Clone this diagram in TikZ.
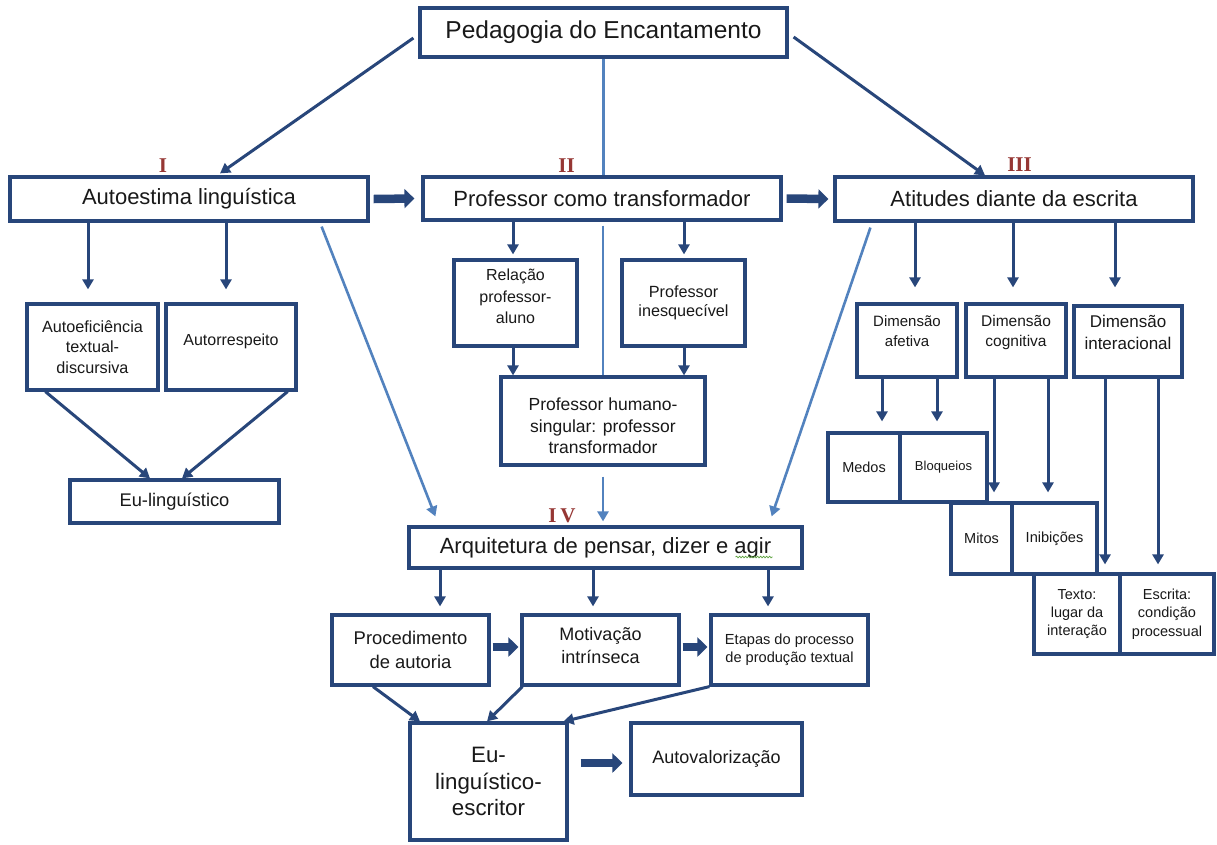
\documentclass[tikz,border=0pt]{standalone}
\usepackage{fontspec}
\setmainfont{Liberation Sans}
\newfontfamily\labfont{Liberation Serif}
\usetikzlibrary{arrows.meta,calc,decorations.pathmorphing}
\definecolor{boxblue}{RGB}{40,70,122}
\definecolor{lineblue}{RGB}{82,130,190}
\definecolor{labred}{RGB}{150,55,52}
\definecolor{wavegreen}{RGB}{90,160,60}
\newcommand{\fsz}[2]{\fontsize{#1}{#2}\selectfont}
\begin{document}
\begin{tikzpicture}[x=1pt,y=-1pt,
  box/.style={draw=boxblue,line width=3.2pt,fill=white,align=center,inner sep=1pt,text=black!90},
  darr/.style={draw=boxblue,line width=3pt,-{Triangle[length=10pt,width=11pt]}},
  larr/.style={draw=lineblue,line width=2.6pt,-{Triangle[length=10pt,width=11pt]}},
  lline/.style={draw=lineblue,line width=2.6pt},
  fat/.style={draw=boxblue,line width=8.5pt,-{Triangle[length=10pt,width=19pt]}},
  numlab/.style={text=labred,font=\labfont\bfseries\fsz{21}{21},inner sep=0pt}
]
\useasboundingbox (0,0) rectangle (1217,844);
\fill[white] (0,0) rectangle (1217,844);

% ---------- boxes ----------
\node[box,minimum width=367pt,minimum height=49pt,font=\fsz{24.5}{29}] (ped) at (603.5,32.5) {Pedagogia do Encantamento};

\node[box,minimum width=358pt,minimum height=44pt,font=\fsz{22}{26}] (auto) at (189,199) {Autoestima linguística};
\node[box,minimum width=358pt,minimum height=43pt,font=\fsz{22}{26}] (prof) at (602,198.5) {Professor como transformador};
\node[box,minimum width=358pt,minimum height=44pt,font=\fsz{22}{26}] (atit) at (1014,199) {Atitudes diante da escrita};

\node[numlab] (labI) at (163,166) {I};
\node[numlab] (labII) at (566.5,165.5) {II};
\node[numlab] (labIII) at (1019.5,165) {III};
\node[numlab] (labIV) at (562,515.5) {I\hspace{4pt}V};

\node[box,minimum width=131pt,minimum height=86pt,font=\fsz{16.2}{20.5}] (autoef) at (92.5,347) {Autoeficiência\\textual-\\discursiva};
\node[box,minimum width=130pt,minimum height=86pt,font=\fsz{16}{20},text depth=15pt] (autor) at (231,347) {Autorrespeito};
\node[box,minimum width=209pt,minimum height=43pt,font=\fsz{18.3}{22}] (eul) at (174.5,501.5) {Eu-linguístico};

\node[box,minimum width=123pt,minimum height=86pt,font=\fsz{16}{21.5},text depth=13pt] (rel) at (515.5,303) {Relação\\professor-\\aluno};
\node[box,minimum width=123pt,minimum height=86pt,font=\fsz{16.2}{19.5}] (ines) at (683.5,303) {Professor\\inesquecível};
\node[box,minimum width=204pt,minimum height=88pt,font=\fsz{17.5}{21.7},text height=66pt] (hum) at (603,421) {Professor humano-\\singular: professor\\transformador};

\node[box,minimum width=393pt,minimum height=41pt,font=\fsz{22}{26}] (arq) at (605.5,547.5) {Arquitetura de pensar, dizer e agir};

\node[box,minimum width=157pt,minimum height=70pt,font=\fsz{18.4}{23.3}] (proc) at (410.5,650) {Procedimento\\de autoria};
\node[box,minimum width=157pt,minimum height=70pt,font=\fsz{18}{23},text depth=10pt] (mot) at (600.5,650) {Motivação\\intrínseca};
\node[box,minimum width=157pt,minimum height=70pt,font=\fsz{14.6}{18.3}] (etap) at (789.5,650) {Etapas do processo\\de produção textual};
\node[box,minimum width=157pt,minimum height=117pt,font=\fsz{22.3}{26.7}] (esc) at (488.5,781.5) {Eu-\\linguístico-\\escritor};
\node[box,minimum width=171pt,minimum height=72pt,font=\fsz{18}{22}] (autov) at (716.5,759) {Autovalorização};

\node[box,minimum width=100pt,minimum height=73pt,font=\fsz{15}{20},text depth=19pt] (afet) at (907,340.5) {Dimensão\\afetiva};
\node[box,minimum width=100pt,minimum height=73pt,font=\fsz{15.5}{20},text depth=19pt] (cogn) at (1016,340.5) {Dimensão\\cognitiva};
\node[box,minimum width=108pt,minimum height=71pt,font=\fsz{17}{22},text depth=19pt] (inter) at (1128,341.5) {Dimensão\\interacional};

\node[box,minimum width=72pt,minimum height=69pt,font=\fsz{14.5}{18}] (medos) at (864,467.5) {Medos};
\node[box,minimum width=87pt,minimum height=69pt,font=\fsz{13}{16}] (bloq) at (943.5,467.5) {Bloqueios};
\node[box,minimum width=61pt,minimum height=71pt,font=\fsz{14.5}{18}] (mitos) at (981.5,538.5) {Mitos};
\node[box,minimum width=85pt,minimum height=71pt,font=\fsz{14.6}{18}] (inib) at (1054.5,538.5) {Inibições};
\node[box,minimum width=86pt,minimum height=80pt,font=\fsz{14.5}{18.3}] (texto) at (1077,614) {Texto:\\lugar da\\interação};
\node[box,minimum width=94pt,minimum height=80pt,font=\fsz{14.5}{18.3}] (escr) at (1167,614) {Escrita:\\condição\\processual};

% spell-check wave under "agir"
\draw[wavegreen,line width=0.7pt,decorate,decoration={snake,amplitude=0.8pt,segment length=3pt}]
  ($(arq.east)+(-68,9.5)$) -- ($(arq.east)+(-31,9.5)$);

% ---------- connectors ----------
\draw[darr] ($(ped.west)+(-5,5.5)$) -- ($(auto.north)+(31,-2)$);
\draw[darr] ($(ped.east)+(5,4.5)$) -- ($(atit.north)+(-29,0)$);
\draw[lline] (ped.south) -- (ped.south |- prof.north);
\draw[lline] ($(prof.south -| hum.north)+(0,4)$) -- (hum.north);
\draw[larr] ($(hum.south)+(0,10)$) -- ($(hum.south |- arq.north)+(0,-4)$);
\draw[larr] ($(auto.south east)+(-48,4)$) -- ($(arq.north west)+(28,-9)$);
\draw[larr] ($(atit.south west)+(37,5)$) -- ($(arq.north east)+(-32,-9)$);

\draw[fat] ($(auto.east)+(4,0)$) -- ($(prof.west)+(-7,0)$);
\draw[fat] ($(prof.east)+(4,0)$) -- ($(atit.west)+(-5,0)$);
\draw[fat] ($(proc.east)+(2,-3)$) -- ($(mot.west)+(-2,-3)$);
\draw[fat] ($(mot.east)+(2,-3)$) -- ($(etap.west)+(-2,-3)$);
\draw[fat] ($(esc.east)+(12,-18.5)$) -- ($(autov.west)+(-7,4)$);

\draw[darr,shorten >=13pt] ($(auto.south -| autoef.north)+(-4.5,0)$) -- ($(autoef.north)+(-4.5,0)$);
\draw[darr,shorten >=13pt] ($(auto.south -| autor.north)+(-5,0)$) -- ($(autor.north)+(-5,0)$);
\draw[darr] ($(autoef.south west)+(20,0)$) -- ($(eul.north)+(-24.5,0)$);
\draw[darr] ($(autor.south east)+(-10,0)$) -- ($(eul.north)+(7.5,0)$);

\draw[darr,shorten >=4pt] ($(prof.south -| rel.north)+(-2.5,0)$) -- ($(rel.north)+(-2.5,0)$);
\draw[darr,shorten >=4pt] ($(prof.south -| ines.north)+(0.5,0)$) -- ($(ines.north)+(0.5,0)$);
\draw[darr] ($(rel.south)+(-2.5,0)$) -- ($(rel.south |- hum.north)+(-2.5,0)$);
\draw[darr] ($(ines.south)+(0.5,0)$) -- ($(ines.south |- hum.north)+(0.5,0)$);

\draw[darr,shorten >=15pt] ($(atit.south -| afet.north)+(8,0)$) -- ($(afet.north)+(8,0)$);
\draw[darr,shorten >=15pt] ($(atit.south -| cogn.north)+(-3,0)$) -- ($(cogn.north)+(-3,0)$);
\draw[darr,shorten >=17pt] ($(atit.south -| inter.north)+(-13,0)$) -- ($(inter.north)+(-13,0)$);
\draw[darr,shorten >=10pt] ($(afet.south -| medos.north)+(18,0)$) -- ($(medos.north)+(18,0)$);
\draw[darr,shorten >=10pt] ($(afet.south -| bloq.north)+(-6.5,0)$) -- ($(bloq.north)+(-6.5,0)$);
\draw[darr,shorten >=9pt] ($(cogn.south -| mitos.north)+(12.5,0)$) -- ($(mitos.north)+(12.5,0)$);
\draw[darr,shorten >=9pt] ($(cogn.south -| inib.north)+(-6.5,0)$) -- ($(inib.north)+(-6.5,0)$);
\draw[darr,shorten >=8pt] ($(inter.south -| texto.north)+(28,0)$) -- ($(texto.north)+(28,0)$);
\draw[darr,shorten >=8pt] ($(inter.south -| escr.north)+(-9,0)$) -- ($(escr.north)+(-9,0)$);

\draw[darr,shorten >=7pt] ($(arq.south -| proc.north)+(29.5,0)$) -- ($(proc.north)+(29.5,0)$);
\draw[darr,shorten >=7pt] ($(arq.south -| mot.north)+(-7.5,0)$) -- ($(mot.north)+(-7.5,0)$);
\draw[darr,shorten >=7pt] ($(arq.south -| etap.north)+(-21.5,0)$) -- ($(etap.north)+(-21.5,0)$);
\draw[darr] ($(proc.south)+(-37.5,0)$) -- ($(esc.north)+(-68.5,0)$);
\draw[darr] ($(mot.south west)+(2,0)$) -- ($(esc.north)+(-1.5,0)$);
\draw[darr] (etap.south west) -- ($(esc.north east)+(-5,0)$);
\end{tikzpicture}
\end{document}
